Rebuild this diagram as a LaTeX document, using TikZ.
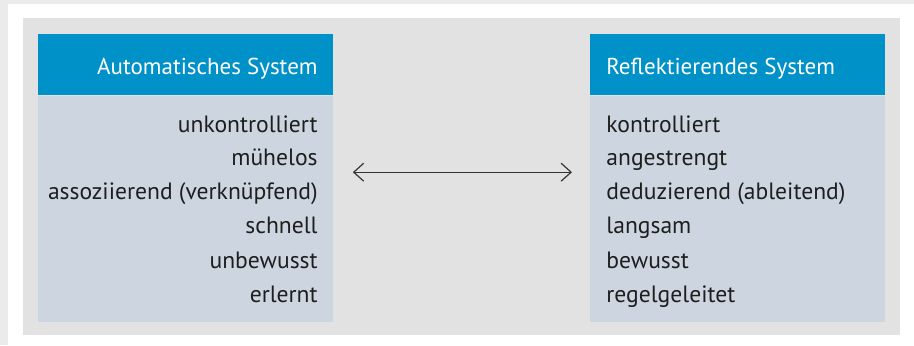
\documentclass[tikz,border=0pt]{standalone}
\usepackage{fontspec}
\setmainfont{PT Sans}
\usetikzlibrary{positioning,arrows.meta}
\definecolor{outergray}{RGB}{235,235,235}
\definecolor{panelgray}{RGB}{226,226,226}
\definecolor{headblue}{RGB}{0,145,200}
\definecolor{bodyblue}{RGB}{205,214,224}
\definecolor{textgray}{RGB}{30,30,30}
\tikzset{>={Straight Barb[length=5pt,width=9pt]}}
\tikzset{
  headbox/.style={fill=headblue, minimum width=147.5pt, minimum height=30.5pt, inner sep=0pt},
  bodybox/.style={fill=bodyblue, minimum width=147.5pt, minimum height=113pt, inner sep=0pt},
  headtext/.style={text=white, font=\fontsize{11.5}{13}\selectfont, inner sep=0pt},
  item/.style={text=textgray, font=\fontsize{11.8}{13}\selectfont, inner sep=0pt}
}

\begin{document}
\begin{tikzpicture}[x=0.5pt, y=-0.5pt]
      \fill[outergray] (0,0) rectangle (914,345);
      \fill[white] (8,4) rectangle (914,345);
      \fill[panelgray] (23,18) rectangle (900,335);
      \useasboundingbox (0,0) rectangle (914,345);
      % left column
      \node[headbox, anchor=north west] (autohead) at (38,34) {};
      \node[bodybox, below=0pt of autohead] (autobody) {};
      \node[headtext, anchor=base east] (autotitle) at (318,74) {Automatisches System};
      \node[item, anchor=base east] (a1) at (318,132) {unkontrolliert};
      \node[item, anchor=base east] (a2) at (318,165) {mühelos};
      \node[item, anchor=base east] (a3) at (318,199) {assoziierend (verknüpfend)};
      \node[item, anchor=base east] (a4) at (318,233) {schnell};
      \node[item, anchor=base east] (a5) at (318,268) {unbewusst};
      \node[item, anchor=base east] (a6) at (318,302) {erlernt};
      % right column
      \node[headbox, anchor=north west] (reflhead) at (590,34) {};
      \node[bodybox, below=0pt of reflhead] (reflbody) {};
      \node[headtext, anchor=base west] (refltitle) at (606,74) {Reflektierendes System};
      \node[item, anchor=base west] (r1) at (606,132) {kontrolliert};
      \node[item, anchor=base west] (r2) at (606,165) {angestrengt};
      \node[item, anchor=base west] (r3) at (606,199) {deduzierend (ableitend)};
      \node[item, anchor=base west] (r4) at (606,233) {langsam};
      \node[item, anchor=base west] (r5) at (606,268) {bewusst};
      \node[item, anchor=base west] (r6) at (606,302) {regelgeleitet};
      \draw[<->, line width=0.6pt, draw=textgray!90, shorten <=9.5pt, shorten >=9pt]
        ([yshift=18.5pt]autobody.east) -- ([yshift=18.5pt]reflbody.west);
    \end{tikzpicture}
\end{document}
